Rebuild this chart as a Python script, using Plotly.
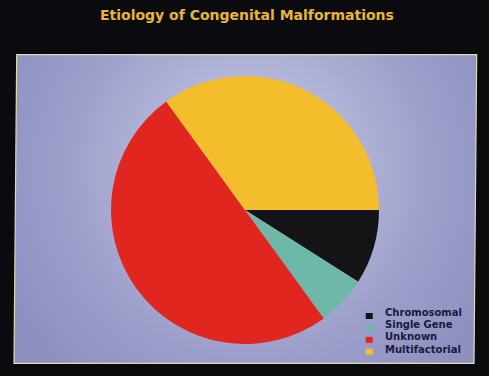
import base64
import plotly.graph_objects as go

# Etiology of congenital malformations (% of cases)
categories = ["Chromosomal", "Single Gene", "Unknown", "Multifactorial"]
shares = [9, 6, 50, 35]
slice_colors = ["#141416", "#6db8a9", "#e0261f", "#f4bd2c"]

W, H = 489, 376

# Lavender panel with a soft radial glow, drawn as an SVG backdrop
panel_svg = f"""<svg xmlns='http://www.w3.org/2000/svg' width='{W}' height='{H}' viewBox='0 0 {W} {H}'>
<defs>
<radialGradient id='g' cx='250' cy='170' r='270' gradientUnits='userSpaceOnUse'>
<stop offset='0' stop-color='#cdd0e4'/>
<stop offset='0.35' stop-color='#b3b6d8'/>
<stop offset='0.7' stop-color='#9c9eca'/>
<stop offset='1' stop-color='#8e90c0'/>
</radialGradient>
</defs>
<rect x='0' y='0' width='{W}' height='{H}' fill='#0b0b0f'/>
<polygon points='16.7,54.7 476.7,54.7 474,363.3 14,363.3' fill='url(#g)' stroke='#dcdcb4' stroke-width='1.2'/>
</svg>"""
panel_uri = "data:image/svg+xml;base64," + base64.b64encode(panel_svg.encode()).decode()

fig = go.Figure()
fig.add_trace(go.Pie(
    labels=categories,
    values=shares,
    marker=dict(colors=slice_colors, line=dict(width=0)),
    sort=False,
    direction="clockwise",
    rotation=90,
    textinfo="none",
    hoverinfo="label+percent",
    showlegend=False,
    domain=dict(x=[0.201, 0.801], y=[0.0851, 0.7979]),
))

# Compact legend in the lower-right corner of the panel
shapes = []
annotations = []
text_y0, text_step = 312.2, 12.3
box_y0, box_step = 316.0, 11.9
for i, (name, col) in enumerate(zip(categories, slice_colors)):
    yb = box_y0 + i * box_step
    shapes.append(dict(
        type="rect", xref="paper", yref="paper",
        x0=365.7 / W, x1=372.7 / W,
        y0=1 - (yb + 3) / H, y1=1 - (yb - 3) / H,
        fillcolor=col, line=dict(width=0),
    ))
    yt = text_y0 + i * text_step
    annotations.append(dict(
        text=name, xref="paper", yref="paper",
        x=384 / W, y=1 - yt / H, xanchor="left", yanchor="middle",
        showarrow=False, borderpad=0,
        font=dict(family="DejaVu Sans", size=10, weight="bold", color="#191a3e"),
    ))

annotations.append(dict(
    text="<b>Etiology of Congenital Malformations</b>",
    xref="paper", yref="paper", x=247 / W, y=1 - 15 / H,
    xanchor="center", yanchor="middle", showarrow=False,
    font=dict(family="DejaVu Sans", size=14, color="#e9b633"),
))

fig.update_layout(
    width=W, height=H,
    margin=dict(l=0, r=0, t=0, b=0),
    paper_bgcolor="#0b0b0f",
    plot_bgcolor="#0b0b0f",
    images=[dict(
        source=panel_uri, xref="paper", yref="paper",
        x=0, y=1, sizex=1, sizey=1, xanchor="left", yanchor="top",
        sizing="stretch", layer="below",
    )],
    shapes=shapes,
    annotations=annotations,
)

fig.write_html("out.html")
